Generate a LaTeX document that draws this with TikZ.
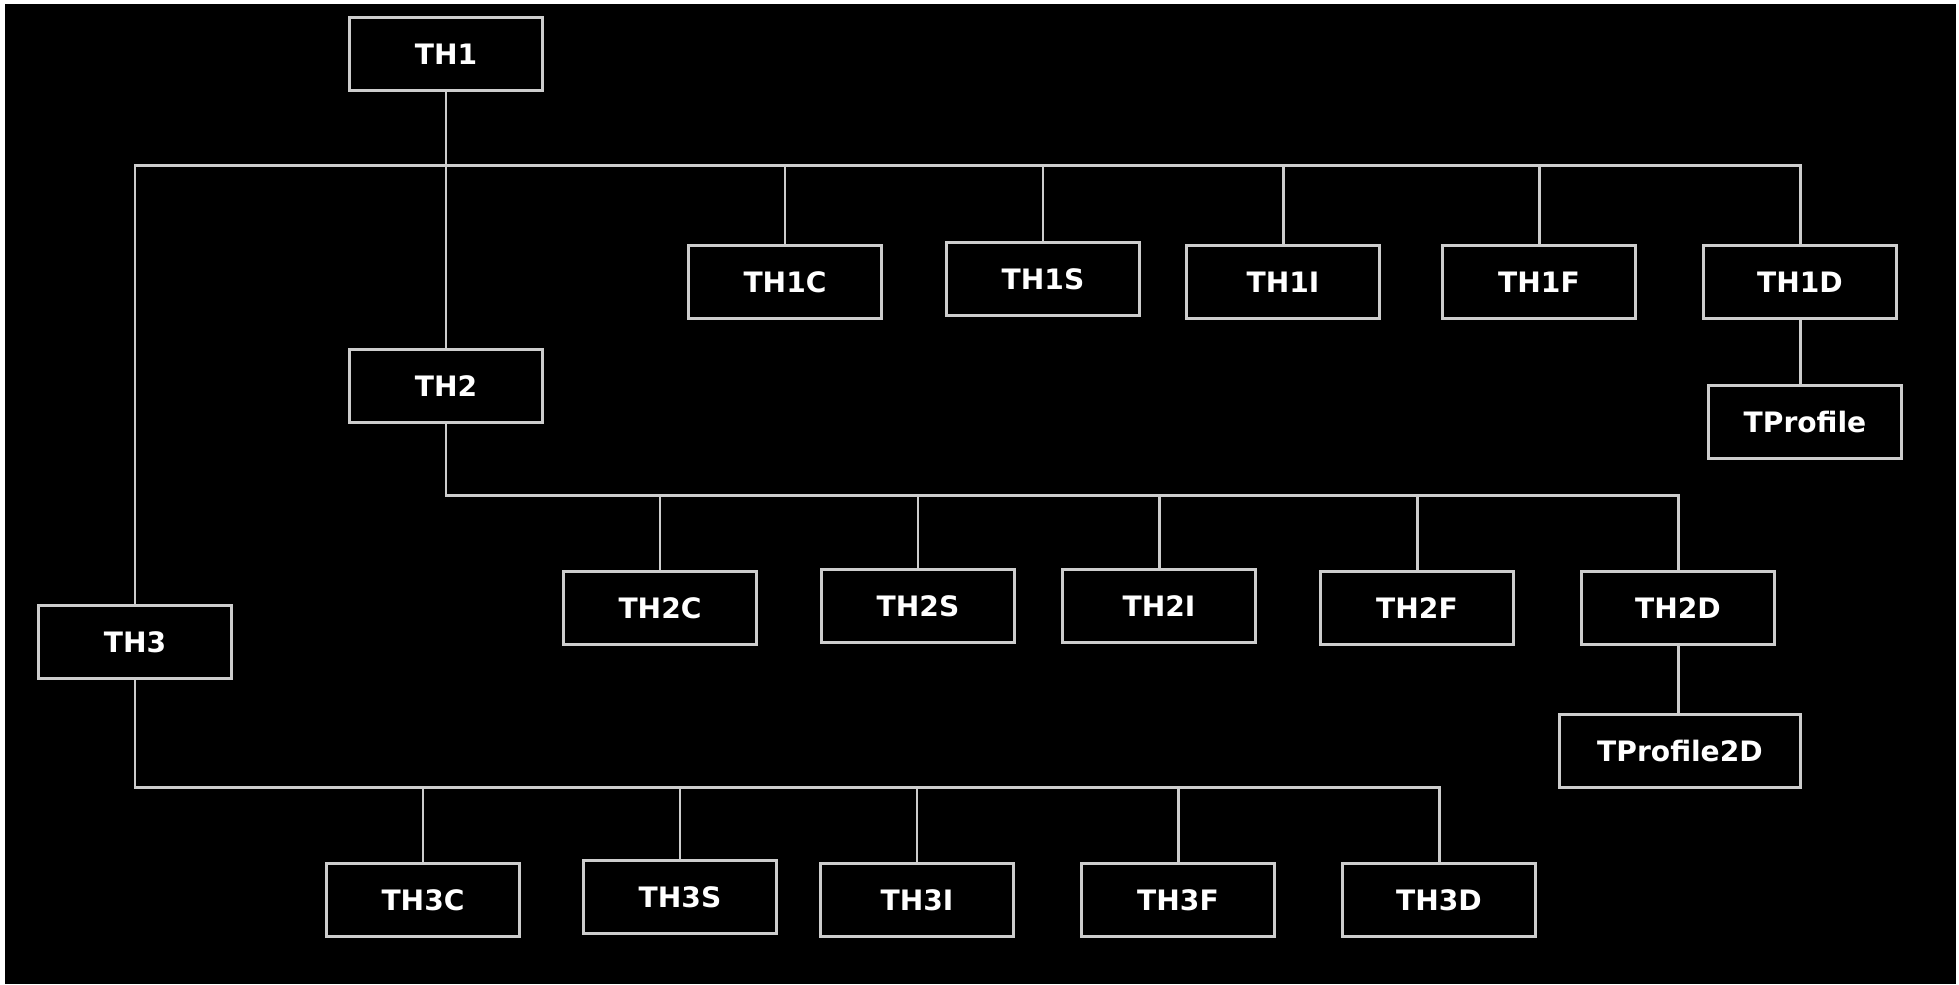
\documentclass[tikz,border=0pt]{standalone}
\usepackage{fontspec}
\setmainfont{DejaVu Sans}
\usepackage{tikz}
\definecolor{lineGray}{RGB}{205,205,205}
\tikzset{
  cls/.style={draw=lineGray, line width=0.85pt, fill=black, text=white,
    minimum width=1.92cm, minimum height=0.73cm, inner sep=0pt,
    font=\fontsize{8}{9.6}\selectfont\bfseries},
  wire/.style={draw=lineGray, line width=0.85pt}
}

\begin{document}
\begin{tikzpicture}[x=0.01cm, y=-0.01cm]
        \fill[white] (0, 0) rectangle (1959, 984);
        \fill[black] (5, 4) rectangle (1956, 984);

        \node[cls] (TH1) at (446, 54) {TH1};
        \node[cls] (TH2) at (446, 386) {TH2};
        \node[cls] (TH3) at (135, 642) {TH3};

        \node[cls] (TH1C) at (785, 282) {TH1C};
        \node[cls] (TH1S) at (1043, 279) {TH1S};
        \node[cls] (TH1I) at (1283, 282) {TH1I};
        \node[cls] (TH1F) at (1539, 282) {TH1F};
        \node[cls] (TH1D) at (1800, 282) {TH1D};
        \node[cls] (TProfile) at (1805, 422) {TProfile};

        \node[cls] (TH2C) at (660, 608) {TH2C};
        \node[cls] (TH2S) at (918, 606) {TH2S};
        \node[cls] (TH2I) at (1159, 606) {TH2I};
        \node[cls] (TH2F) at (1417, 608) {TH2F};
        \node[cls] (TH2D) at (1678, 608) {TH2D};
        \node[cls, minimum width=2.4cm] (TProfile2D) at (1680, 751) {TProfile2D};

        \node[cls] (TH3C) at (423, 900) {TH3C};
        \node[cls] (TH3S) at (680, 897) {TH3S};
        \node[cls] (TH3I) at (917, 900) {TH3I};
        \node[cls] (TH3F) at (1178, 900) {TH3F};
        \node[cls] (TH3D) at (1439, 900) {TH3D};

        \coordinate (bus1) at (0, 165);
        \coordinate (bus2) at (0, 495);
        \coordinate (bus3) at (0, 787);

        \draw[wire] (TH1) -- (TH2);
        \draw[wire] (TH3.north) |- (bus1 -| TH1D.north) -- (TH1D.north);
        \foreach \c in {TH1C, TH1S, TH1I, TH1F}
            \draw[wire] (\c.north) -- (\c.north |- bus1);
        \draw[wire] (TH1D.south) -- (TH1D.south |- TProfile.north);

        \draw[wire] (TH2.south) |- (bus2 -| TH2D.north) -- (TH2D.north);
        \foreach \c in {TH2C, TH2S, TH2I, TH2F}
            \draw[wire] (\c.north) -- (\c.north |- bus2);
        \draw[wire] (TH2D.south) -- (TH2D.south |- TProfile2D.north);

        \draw[wire] (TH3.south) |- (bus3 -| TH3D.north) -- (TH3D.north);
        \foreach \c in {TH3C, TH3S, TH3I, TH3F}
            \draw[wire] (\c.north) -- (\c.north |- bus3);
    \end{tikzpicture}
\end{document}
